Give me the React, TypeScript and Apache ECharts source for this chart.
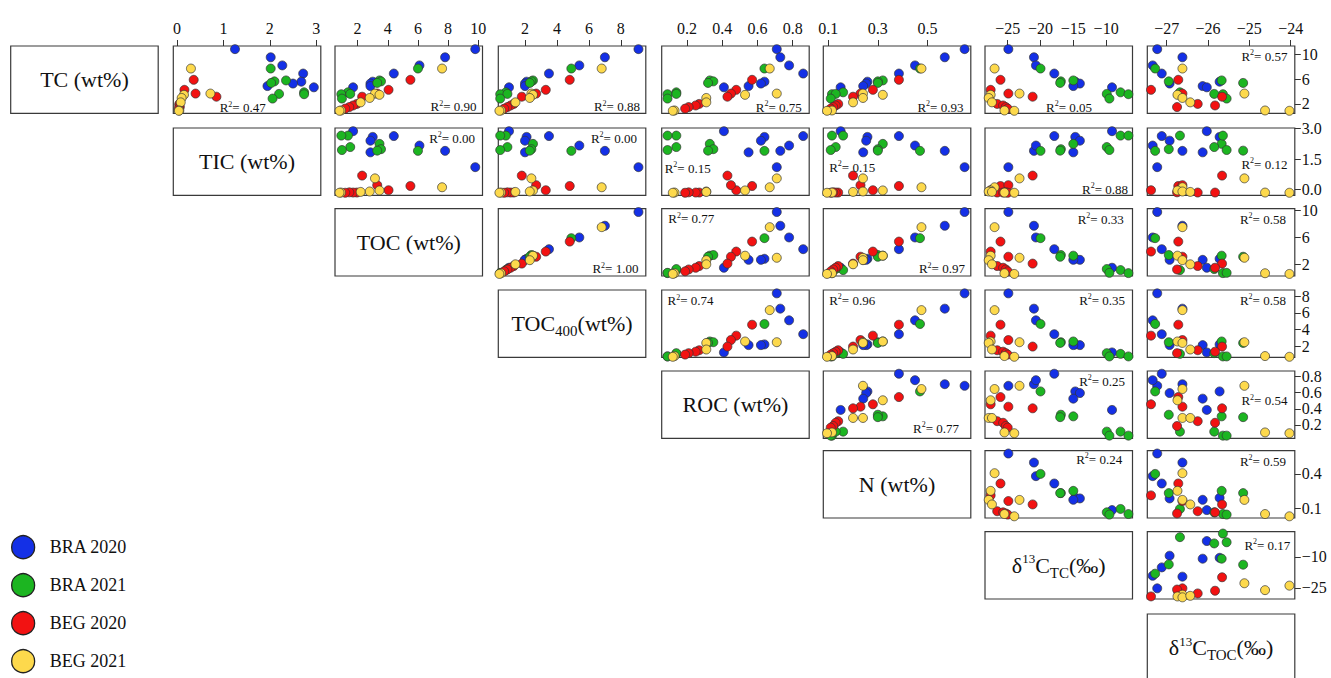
import React, { useEffect, useRef } from "react";
import * as echarts from "echarts";

// ---------------- DATA ----------------
const GROUPS = ["BRA 2020", "BRA 2021", "BEG 2020", "BEG 2021"];
const COLORS = ["#1430e6", "#1cb521", "#f21212", "#fdd94c"];

// group index of each sample (8 BRA 2020, 8 BRA 2021, 8 BEG 2020, 7 BEG 2021)
const SAMPLE_GROUP = [0, 0, 0, 0, 0, 0, 0, 0, 1, 1, 1, 1, 1, 1, 1, 1, 2, 2, 2, 2, 2, 2, 2, 2, 3, 3, 3, 3, 3, 3, 3];

const TC = [10.7, 9.4, 8.1, 6.8, 5.5, 5.2, 4.8, 4.6, 7.6, 5.7, 5.55, 3.8, 3.5, 3.55, 2.8, 5.3, 5.8, 4.2, 3.6, 3.1, 1.95, 1.7, 1.45, 1.2, 7.6, 3.6, 3.4, 2.9, 2.2, 0.9, 0.85];
const TIC = [1.25, 2.02, 2.27, 2.72, 2.68, 2.5, 1.95, 2.95, 2.02, 2.35, 2.1, 2.74, 2.74, 2.2, 2.06, 2.03, 0.36, 0.16, 0.4, 0.85, 0.05, 0.05, 0.06, 0.04, 0.3, 0.72, 0.15, 0.1, 0.08, 0.05, 0.04];
const TOC = [9.8, 7.8, 6.1, 4.4, 3.0, 2.85, 2.85, 1.7, 6.0, 3.45, 3.55, 1.36, 0.92, 1.51, 0.96, 3.3, 5.5, 4.05, 3.3, 2.3, 1.95, 1.7, 1.45, 1.18, 7.6, 3.15, 3.45, 2.8, 2.2, 0.9, 0.8];
const TOC400 = [9.1, 7.0, 5.4, 3.5, 2.1, 2.0, 2.0, 1.0, 4.9, 2.5, 2.4, 0.8, 0.45, 0.9, 0.45, 2.3, 4.8, 3.3, 2.7, 1.8, 1.3, 1.1, 0.9, 0.7, 6.8, 2.4, 2.5, 2.3, 1.4, 0.5, 0.4];
const ROC = [0.71, 0.73, 0.78, 0.86, 0.64, 0.62, 0.55, 0.41, 0.64, 0.33, 0.35, 0.14, 0.09, 0.14, 0.09, 0.32, 0.57, 0.48, 0.45, 0.43, 0.27, 0.25, 0.21, 0.19, 0.67, 0.71, 0.53, 0.31, 0.31, 0.13, 0.12];
const N = [0.65, 0.57, 0.45, 0.385, 0.258, 0.253, 0.241, 0.15, 0.47, 0.32, 0.3, 0.16, 0.115, 0.13, 0.11, 0.3, 0.385, 0.28, 0.23, 0.2, 0.14, 0.13, 0.12, 0.11, 0.476, 0.24, 0.32, 0.24, 0.2, 0.115, 0.095];
const D13C_TC = [-24.9, -21.0, -20.7, -17.9, -14.7, -14.0, -15.0, -9.1, -20.0, -15.0, -16.9, -7.8, -6.6, -9.9, -9.5, -17.0, -26.1, -27.6, -24.9, -21.2, -26.6, -25.7, -25.3, -25.0, -27.0, -23.2, -27.6, -27.9, -27.4, -25.5, -24.0];
const D13C_TOC = [-27.23, -26.62, -27.34, -27.12, -25.72, -26.93, -26.13, -26.03, -27.28, -25.67, -26.95, -26.68, -25.64, -25.85, -25.55, -25.15, -26.72, -27.38, -26.62, -25.66, -26.25, -25.83, -26.75, null, -26.62, -25.12, -26.74, -26.62, -26.43, -24.62, -24.03];

const VARS = [TC, TIC, TOC, TOC400, ROC, N, D13C_TC, D13C_TOC];

// axis ranges of each variable (panel edges)
const RANGES = [[0.45, 11.2], [-0.08, 3.1], [0.5, 10.28], [0.33, 9.56], [0.057, 0.894], [0.08, 0.675], [-28.46, -5.98], [-27.47, -23.9]];
// top tick labels of each column
const TOP_TICKS = [null, [0, 1, 2, 3], [2, 4, 6, 8, 10], [2, 4, 6, 8], [0.2, 0.4, 0.6, 0.8], [0.1, 0.3, 0.5], [-25, -20, -15, -10], [-27, -26, -25, -24]];
const TOP_DEC = [0, 0, 0, 0, 1, 1, 0, 0];
// right tick labels of each row
const RIGHT_TICKS = [[2, 6, 10], [0, 1.5, 3], [2, 6, 10], [2, 4, 6, 8], [0.2, 0.4, 0.6, 0.8], [0.1, 0.4], [-25, -10]];
const RIGHT_RANGE = [[0.49, 11.34], [-0.28, 3.03], [0.2, 10.3], [0.72, 8.72], [0.034, 0.87], [0.02, 0.6], [-30.4, 2.2]];
const RIGHT_DEC = [0, 1, 0, 0, 1, 1, 0];

// R² per panel, row-major over the upper triangle
const R2_VALUES = [
  "0.47", "0.90", "0.88", "0.75", "0.93", "0.05", "0.57",
  "0.00", "0.00", "0.15", "0.15", "0.88", "0.12",
  "1.00", "0.77", "0.97", "0.33", "0.58",
  "0.74", "0.96", "0.35", "0.58",
  "0.77", "0.25", "0.54",
  "0.24", "0.59",
  "0.17",
];

// ---------------- LAYOUT ----------------
const COL_LEFT = [10.7, 173.3, 335, 498.3, 661.7, 823.3, 985, 1147.3];
const ROW_TOP = [46, 128, 208.7, 290, 371, 450.7, 531.7, 614];
const PW = 147.5;
const PH = 67.3;

const R2_POS: [number, number, string][] = [
  [0.47, 0.92, "center"], [0.96, 0.9, "right"], [0.96, 0.9, "right"], [0.95, 0.91, "right"], [0.95, 0.91, "right"], [0.57, 0.91, "center"], [0.95, 0.15, "right"],
  [0.95, 0.15, "right"], [0.94, 0.15, "right"], [0.02, 0.6, "left"], [0.04, 0.58, "left"], [0.97, 0.91, "right"], [0.95, 0.54, "right"],
  [0.95, 0.89, "right"], [0.045, 0.15, "left"], [0.96, 0.89, "right"], [0.94, 0.16, "right"], [0.94, 0.16, "right"],
  [0.04, 0.16, "left"], [0.04, 0.15, "left"], [0.95, 0.15, "right"], [0.94, 0.15, "right"],
  [0.92, 0.85, "right"], [0.95, 0.15, "right"], [0.95, 0.44, "right"],
  [0.93, 0.13, "right"], [0.94, 0.16, "right"],
  [0.97, 0.2, "right"],
];

const SERIF = "Liberation Serif";
const LABELS = [
  "{n|TC (wt%)}",
  "{n|TIC (wt%)}",
  "{n|TOC (wt%)}",
  "{n|TOC}{sub|400}{n|(wt%)}",
  "{n|ROC (wt%)}",
  "{n|N (wt%)}",
  "{n|δ}{sup|13}{n|C}{sc|TC}{n|(‰)}",
  "{n|δ}{sup|13}{n|C}{sub|TOC}{n|(‰)}",
];

const fmt = (dec: number) => (v: number) => Number(v).toFixed(dec).replace("-", "\u2212");

function buildOption() {
  const grid: any[] = [];
  const xAxis: any[] = [];
  const yAxis: any[] = [];
  const series: any[] = [];
  const graphic: any[] = [];
  const panels: [number, number][] = [];
  for (let i = 0; i < 7; i++) for (let j = i + 1; j < 8; j++) panels.push([i, j]);

  panels.forEach(([i, j], p) => {
    grid.push({
      left: COL_LEFT[j], top: ROW_TOP[i], width: PW, height: PH,
      show: true, borderColor: "#3a3a3a", borderWidth: 1.2, backgroundColor: "transparent",
    });
    const showTop = i === 0;
    xAxis.push({
      gridIndex: p, type: "value", position: "top", min: RANGES[j][0], max: RANGES[j][1],
      show: showTop,
      axisLine: { show: false }, splitLine: { show: false },
      axisTick: showTop ? { show: true, length: 6, customValues: TOP_TICKS[j], lineStyle: { color: "#333", width: 1 } } : { show: false },
      axisLabel: showTop ? { show: true, customValues: TOP_TICKS[j], formatter: fmt(TOP_DEC[j]), fontFamily: SERIF, fontSize: 16, color: "#111", margin: 10 } : { show: false },
    });
    yAxis.push({ gridIndex: p, type: "value", min: RANGES[i][0], max: RANGES[i][1], show: false, splitLine: { show: false } });

    GROUPS.forEach((name, g) => {
      const data: number[][] = [];
      SAMPLE_GROUP.forEach((sg, s) => {
        if (sg !== g) return;
        const x = VARS[j][s];
        const y = VARS[i][s];
        if (x === null || y === null || x === undefined || y === undefined) return;
        data.push([x as number, y as number]);
      });
      series.push({
        type: "scatter", name, xAxisIndex: p, yAxisIndex: p, data,
        symbol: "circle", symbolSize: 9, silent: true,
        itemStyle: { color: COLORS[g], borderColor: "#333", borderWidth: 0.7, opacity: 1 },
      });
    });

    const [fx, fy, al] = R2_POS[p];
    graphic.push({
      type: "text", z: 100,
      x: COL_LEFT[j] + fx * PW, y: ROW_TOP[i] + fy * PH,
      style: {
        text: `{a|R}{b|2}{a|= ${R2_VALUES[p]}}`,
        textAlign: al, textVerticalAlign: "middle",
        rich: {
          a: { fontFamily: SERIF, fontSize: 13, fill: "#111", lineHeight: 15, verticalAlign: "middle" },
          b: { fontFamily: SERIF, fontSize: 8, fill: "#111", lineHeight: 9, verticalAlign: "top" },
        },
      },
    });
  });

  // right tick axes on last column
  for (let i = 0; i < 7; i++) {
    const p = panels.findIndex(([a, b]) => a === i && b === 7);
    yAxis.push({
      gridIndex: p, type: "value", position: "right", min: RIGHT_RANGE[i][0], max: RIGHT_RANGE[i][1],
      axisLine: { show: false }, splitLine: { show: false },
      axisTick: { show: true, length: 6, customValues: RIGHT_TICKS[i], lineStyle: { color: "#333", width: 1 } },
      axisLabel: { show: true, customValues: RIGHT_TICKS[i], formatter: fmt(RIGHT_DEC[i]), fontFamily: SERIF, fontSize: 16, color: "#111", margin: 7 },
    });
  }

  // diagonal label boxes
  for (let k = 0; k < 8; k++) {
    graphic.push({
      type: "rect", z: 90,
      shape: { x: COL_LEFT[k], y: ROW_TOP[k], width: PW, height: PH },
      style: { fill: "#fff", stroke: "#3a3a3a", lineWidth: 1.2 },
    });
    graphic.push({
      type: "text", z: 91,
      x: COL_LEFT[k] + PW / 2, y: ROW_TOP[k] + PH / 2,
      style: {
        text: LABELS[k], textAlign: "center", textVerticalAlign: "middle",
        rich: {
          n: { fontFamily: SERIF, fontSize: 22, fill: "#111", lineHeight: 30, verticalAlign: "middle" },
          sup: { fontFamily: SERIF, fontSize: 13, fill: "#111", lineHeight: 14, verticalAlign: "top", padding: [2, 0, 0, 0] },
          sub: { fontFamily: SERIF, fontSize: 15, fill: "#111", lineHeight: 15, verticalAlign: "bottom" },
          sc: { fontFamily: SERIF, fontSize: 15, fill: "#111", lineHeight: 19, verticalAlign: "bottom" },
        },
      },
    });
  }

  return {
    animation: false,
    backgroundColor: "#fff",
    grid, xAxis, yAxis, series, graphic,
    legend: {
      data: GROUPS, orient: "vertical", left: 11, top: 535, padding: 0,
      itemWidth: 43, itemHeight: 23, itemGap: 13.7, icon: "circle", selectedMode: false,
      itemStyle: { borderColor: "#222", borderWidth: 1.3 },
      textStyle: { fontFamily: SERIF, fontSize: 18, color: "#111" },
    },
  };
}

export default function App() {
  const ref = useRef<HTMLDivElement>(null);
  useEffect(() => {
    if (!ref.current) return;
    const chart = echarts.init(ref.current, null, { renderer: "svg" });
    chart.setOption(buildOption() as any);
    return () => chart.dispose();
  }, []);
  return <div ref={ref} style={{ position: "fixed", left: 0, top: 0, width: 1331, height: 678 }} />;
}
